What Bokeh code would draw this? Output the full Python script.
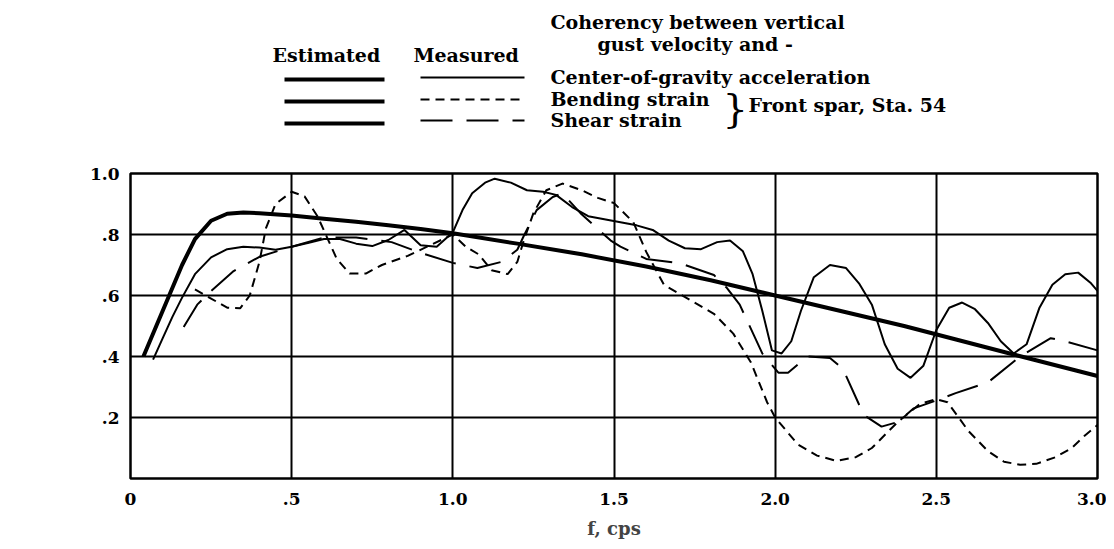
from bokeh.plotting import figure
from bokeh.models import Range1d, FixedTicker, Label
from bokeh.layouts import column
from bokeh.embed import file_html
from bokeh.resources import INLINE
from bokeh.core.properties import value

# ---------------- data ----------------
est_f = [0.04, 0.08, 0.12, 0.16, 0.2, 0.25, 0.3, 0.35, 0.4, 0.5, 0.6, 0.7, 0.8, 0.9, 1.0,
         1.2, 1.4, 1.6, 1.8, 2.0, 2.2, 2.4, 2.6, 2.8, 3.0]
est_y = [0.40, 0.50, 0.60, 0.70, 0.785, 0.845, 0.868, 0.872, 0.870, 0.862, 0.852, 0.842, 0.830, 0.818, 0.804,
         0.77, 0.735, 0.695, 0.65, 0.60, 0.55, 0.50, 0.445, 0.39, 0.336]

cg_f = [0.07, 0.1, 0.13, 0.16, 0.2, 0.25, 0.3, 0.35, 0.4, 0.45, 0.5, 0.55, 0.6, 0.65, 0.7, 0.75, 0.8,
        0.85, 0.9, 0.95, 1.0, 1.03, 1.06, 1.1, 1.13, 1.18, 1.23, 1.28, 1.32, 1.37, 1.42, 1.47, 1.52,
        1.57, 1.62, 1.67, 1.72, 1.77, 1.82, 1.86, 1.9, 1.93, 1.96, 1.99, 2.02, 2.05, 2.08, 2.12, 2.17,
        2.22, 2.26, 2.3, 2.34, 2.38, 2.42, 2.46, 2.5, 2.54, 2.58, 2.62, 2.66, 2.7, 2.74, 2.78, 2.82,
        2.86, 2.9, 2.94, 2.98, 3.0]
cg_y = [0.39, 0.46, 0.53, 0.593, 0.67, 0.725, 0.752, 0.76, 0.757, 0.75, 0.76, 0.772, 0.785, 0.785,
        0.77, 0.762, 0.782, 0.815, 0.765, 0.76, 0.807, 0.88, 0.935, 0.97, 0.983, 0.97, 0.945, 0.94,
        0.93, 0.89, 0.86, 0.85, 0.84, 0.83, 0.815, 0.78, 0.755, 0.752, 0.775, 0.78, 0.745, 0.67,
        0.55, 0.42, 0.41, 0.45, 0.55, 0.66, 0.70, 0.69, 0.64, 0.57, 0.44, 0.36, 0.33, 0.37, 0.487,
        0.56, 0.577, 0.555, 0.51, 0.45, 0.41, 0.44, 0.56, 0.635, 0.67, 0.675, 0.64, 0.615]

bend_f = [0.2, 0.25, 0.3, 0.34, 0.37, 0.4, 0.42, 0.45, 0.5, 0.54, 0.58, 0.61, 0.64, 0.68, 0.73,
          0.78, 0.86, 0.92, 0.97, 1.0, 1.04, 1.08, 1.12, 1.17, 1.2, 1.22, 1.25, 1.29, 1.34, 1.4,
          1.45, 1.5, 1.56, 1.6, 1.655, 1.74, 1.81, 1.87, 1.925, 1.975, 2.0, 2.07, 2.13, 2.19, 2.25,
          2.3, 2.38, 2.45, 2.5, 2.535, 2.6, 2.66, 2.71, 2.76, 2.81, 2.87, 2.92, 2.96, 3.0]
bend_y = [0.62, 0.59, 0.56, 0.558, 0.6, 0.71, 0.82, 0.9, 0.94, 0.925, 0.86, 0.79, 0.72, 0.672,
          0.672, 0.70, 0.73, 0.76, 0.785, 0.80, 0.76, 0.735, 0.683, 0.67, 0.71, 0.78, 0.87, 0.945,
          0.967, 0.945, 0.92, 0.903, 0.84, 0.743, 0.635, 0.583, 0.54, 0.475, 0.38, 0.25, 0.2, 0.112,
          0.075, 0.058, 0.07, 0.10, 0.185, 0.245, 0.26, 0.25, 0.155, 0.09, 0.055, 0.045, 0.048,
          0.07, 0.10, 0.14, 0.175]

shear_f = [0.165, 0.207, 0.25, 0.32, 0.4, 0.5, 0.6, 0.7, 0.81, 0.9, 1.0, 1.076, 1.15, 1.2, 1.22,
           1.26, 1.31, 1.34, 1.396, 1.45, 1.49, 1.52, 1.6, 1.707, 1.81, 1.85, 1.89, 1.96, 2.01,
           2.04, 2.1, 2.17, 2.21, 2.275, 2.33, 2.38, 2.43, 2.5, 2.56, 2.66, 2.76, 2.855, 2.9, 3.0]
shear_y = [0.497, 0.57, 0.615, 0.68, 0.727, 0.76, 0.79, 0.79, 0.775, 0.74, 0.707, 0.69, 0.71,
           0.75, 0.795, 0.88, 0.923, 0.935, 0.87, 0.818, 0.78, 0.76, 0.72, 0.705, 0.667, 0.625,
           0.57, 0.41, 0.347, 0.347, 0.40, 0.395, 0.36, 0.208, 0.17, 0.185, 0.23, 0.256, 0.28,
           0.315, 0.40, 0.46, 0.45, 0.42]

x_ticks = [0, 0.5, 1.0, 1.5, 2.0, 2.5, 3.0]
x_labels = ["0", ".5", "1.0", "1.5", "2.0", "2.5", "3.0"]
y_ticks = [0.2, 0.4, 0.6, 0.8, 1.0]
y_labels = [".2", ".4", ".6", ".8", "1.0"]

FONT = "DejaVu Serif"
BEND_DASH = "9 6"
SHEAR_DASH = "32 14"

LEFT, RIGHT_EDGE, WIDTH = 130, 1097, 1106

# ---------------- legend figure ----------------
# x range expressed in pixel units of the page (frames of the column share the same left/right borders)
lg = figure(width=WIDTH, height=150, x_range=Range1d(LEFT, RIGHT_EDGE), y_range=Range1d(150, 0),
            output_backend="svg", toolbar_location=None,
            x_axis_location=None, y_axis_location=None,
            min_border_left=LEFT, min_border_right=WIDTH - RIGHT_EDGE, min_border_top=0, min_border_bottom=0)
lg.grid.visible = False
lg.outline_line_color = None

def ltext(x, y, s, size="19px", align="left", style="bold"):
    lg.text(x=[x], y=[y], text=[s], text_font=value(FONT), text_font_style=style,
            text_font_size=size, text_baseline="middle", text_align=align, text_color="black")

ltext(550, 21, "Coherency between vertical")
ltext(597, 43, "gust velocity and -")
ltext(272, 54, "Estimated")
ltext(413, 54, "Measured")
ltext(550, 76, "Center-of-gravity acceleration")
ltext(550, 98, "Bending strain")
ltext(550, 119, "Shear strain")
ltext(722, 107, "}", size="40px", style="normal")
ltext(748, 104, "Front spar, Sta. 54")

for yy in (79, 101, 123):
    lg.line(x=[284, 384], y=[yy, yy], line_color="black", line_width=4)
lg.line(x=[420, 524], y=[77, 77], line_color="black", line_width=2)
lg.line(x=[420, 524], y=[99, 99], line_color="black", line_width=2, line_dash=BEND_DASH)
lg.line(x=[420, 524], y=[120, 120], line_color="black", line_width=2, line_dash=SHEAR_DASH)

# ---------------- main figure ----------------
p = figure(width=WIDTH, height=391, x_range=Range1d(0, 3.0), y_range=Range1d(0, 1.0),
           output_backend="svg", toolbar_location=None,
           min_border_left=LEFT, min_border_right=WIDTH - RIGHT_EDGE,
           min_border_top=23, min_border_bottom=56)

p.outline_line_color = "black"
p.outline_line_width = 2.5
p.background_fill_color = "white"

p.xaxis.ticker = FixedTicker(ticks=x_ticks)
p.yaxis.ticker = FixedTicker(ticks=y_ticks)
p.xaxis.major_label_overrides = {t: l for t, l in zip(x_ticks, x_labels)}
p.yaxis.major_label_overrides = {t: l for t, l in zip(y_ticks, y_labels)}
for ax in (p.xaxis, p.yaxis):
    ax.axis_line_color = None
    ax.major_tick_line_color = None
    ax.minor_tick_line_color = None
    ax.major_label_text_font = FONT
    ax.major_label_text_font_style = "bold"
    ax.major_label_text_font_size = "17px"
    ax.major_label_text_color = "black"
p.xaxis.major_label_standoff = 8
p.yaxis.major_label_standoff = 5

p.xaxis.axis_label = "f, cps"
p.xaxis.axis_label_text_font = FONT
p.xaxis.axis_label_text_font_style = "bold"
p.xaxis.axis_label_text_font_size = "18px"
p.xaxis.axis_label_standoff = 10

p.grid.grid_line_color = "black"
p.grid.grid_line_width = 2
p.grid.grid_line_alpha = 1.0

p.line(est_f, est_y, line_color="black", line_width=4)
p.line(cg_f, cg_y, line_color="black", line_width=2)
p.line(bend_f, bend_y, line_color="black", line_width=2, line_dash=BEND_DASH)
p.line(shear_f, shear_y, line_color="black", line_width=2, line_dash=SHEAR_DASH)

p.add_layout(Label(x=-0.37, y=0.52, text="γ²(f)", text_font=FONT, text_font_style="bold",
                   text_font_size="17px", text_baseline="middle", text_color="black"))

layout = column(lg, p, spacing=0)
open("out.html", "w").write(file_html(layout, INLINE))
